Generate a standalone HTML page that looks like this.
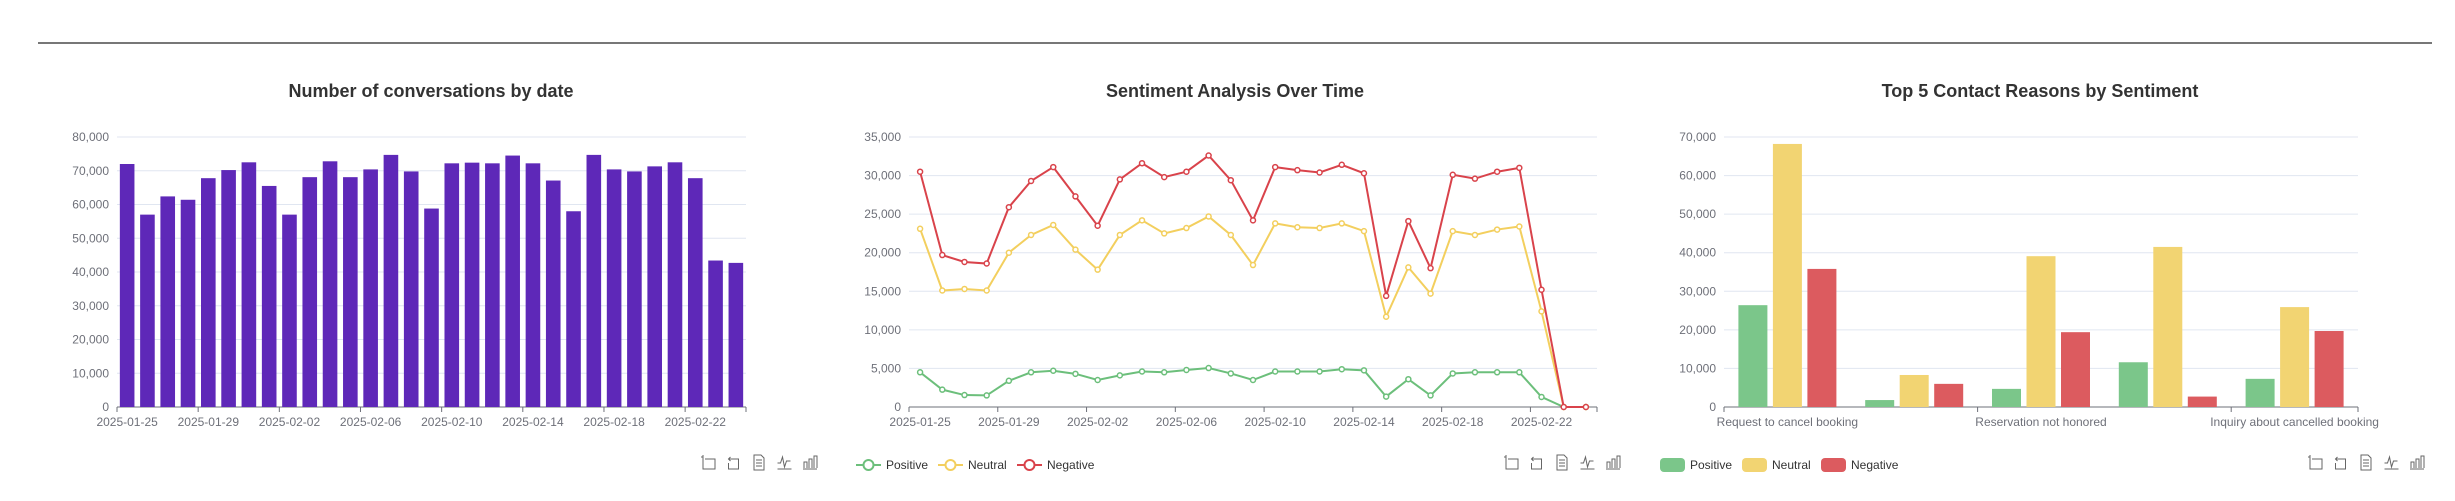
<!DOCTYPE html>
<html><head><meta charset="utf-8"><style>
html,body{margin:0;padding:0;background:#fff;width:2455px;height:501px;overflow:hidden}
svg{display:block;font-family:"Liberation Sans",Arial,sans-serif}
</style></head><body>
<svg id="s" width="2455" height="501">
<rect x="38" y="42" width="2394" height="2" fill="#777"/>
<text x="431" y="97" text-anchor="middle" font-size="18" font-weight="bold" fill="#333">Number of conversations by date</text>
<text x="1235" y="97" text-anchor="middle" font-size="18" font-weight="bold" fill="#333">Sentiment Analysis Over Time</text>
<text x="2040" y="97" text-anchor="middle" font-size="18" font-weight="bold" fill="#333">Top 5 Contact Reasons by Sentiment</text>
<g id="c1"></g>
<g id="c2"></g>
<g id="c3"></g>
</svg>
<script>
const dates=[];
for(let i=0;i<31;i++){const d=new Date(Date.UTC(2025,0,25+i));dates.push(d.toISOString().slice(0,10));}
const conversations=[72000,57000,62400,61400,67800,70200,72500,65500,57000,68100,72800,68100,70400,74700,69800,58800,72200,72400,72200,74500,72200,67100,58000,74700,70400,69800,71300,72500,67800,43400,42700];
const negative=[30500,19700,18800,18600,25900,29300,31100,27300,23500,29500,31600,29800,30500,32600,29400,24200,31100,30700,30400,31400,30300,14400,24100,18000,30100,29600,30500,31000,15200,0,0];
const neutral=[23100,15100,15300,15100,20000,22300,23600,20400,17800,22300,24200,22500,23200,24700,22300,18400,23800,23300,23200,23800,22800,11700,18100,14700,22800,22300,23000,23400,12400,0,0];
const positive=[4500,2250,1550,1500,3400,4500,4700,4300,3500,4100,4600,4500,4800,5050,4350,3500,4600,4600,4600,4900,4750,1350,3600,1500,4350,4500,4500,4500,1300,0,0];
const reasons=["Request to cancel booking","Booking modification","Reservation not honored","Refund status","Inquiry about cancelled booking"];
const reasonPositive=[26400,1800,4700,11600,7300];
const reasonNeutral=[68200,8300,39100,41500,25900];
const reasonNegative=[35800,6000,19400,2700,19700];
const ticks1=[0,10000,20000,30000,40000,50000,60000,70000,80000];
const ticks2=[0,5000,10000,15000,20000,25000,30000,35000];
const ticks3=[0,10000,20000,30000,40000,50000,60000,70000];
const NS="http://www.w3.org/2000/svg";
function mk(p,tag,a,txt){const e=document.createElementNS(NS,tag);for(const k in a)e.setAttribute(k,a[k]);if(txt!==undefined)e.textContent=txt;p.appendChild(e);return e;}
const fmt=v=>v.toLocaleString('en-US');
const Y0=407,Y1=137;
function axes(g,x0,x1,ticks,cats,labelEvery,name){
  const max=ticks[ticks.length-1];
  const y=v=>Y0-(v/max)*(Y0-Y1);
  ticks.forEach(t=>{
    if(t>0){const l=mk(g,'line',{x1:x0,x2:x1,y1:y(t),y2:y(t),stroke:'#e0e6f1','stroke-width':1});
    
    }
    const tx=mk(g,'text',{x:x0-8,y:y(t)+4,'text-anchor':'end','font-size':12,fill:'#6e7079'},fmt(t));
    
    
  });
  const ax=mk(g,'line',{x1:x0,x2:x1,y1:Y0,y2:Y0,stroke:'#6e7079','stroke-width':1});
  
  
  const bw=(x1-x0)/cats.length;
  for(let i=0;i<=cats.length;i++){
    if(i%labelEvery===0||i===cats.length){
      const tk=mk(g,'line',{x1:x0+i*bw,x2:x0+i*bw,y1:Y0,y2:Y0+5,stroke:'#6e7079'});
      
      
    }
    if(i<cats.length&&i%labelEvery===0){
      const lb=mk(g,'text',{x:x0+(i+0.5)*bw,y:Y0+19,'text-anchor':'middle','font-size':12,fill:'#6e7079'},cats[i]);
      
      
    }
  }
  return {y,bw};
}
function toolbox(g,x,name){
  const icons=['M3 3v12h12V5H5 M3 3V1 M1 3h2','M5 3L3 5l2 2 M3 5h10v10H3V9','M3 1h7l3 3v12H3z M5 6h6 M5 9h6 M5 12h6','M1 15h14 M1 9h3l2-6 2 10 2-6h4','M1 15h14 M2 14V8h3v6 M7 14V5h3v9 M12 14V2h3v12'];
  icons.forEach((d,i)=>{
    const p=mk(g,'path',{d:d,transform:`translate(${x+i*25.5},454)`,fill:'none',stroke:'#666','stroke-width':1});
    
    
  });
}
// Chart 1
(function(){
  const g=document.getElementById('c1');
  const x0=117,x1=746;
  const {y,bw}=axes(g,x0,x1,ticks1,dates,4,'conversations');
  conversations.forEach((v,i)=>{
    const w=bw*0.72;
    const r=mk(g,'rect',{x:x0+i*bw+(bw-w)/2,y:y(v),width:w,height:Y0-y(v),fill:'#5e28b8'});
    
    
  });
  toolbox(g,700,'conversations');
})();
// Chart 2
(function(){
  const g=document.getElementById('c2');
  const x0=909,x1=1597;
  const {y,bw}=axes(g,x0,x1,ticks2,dates,4,'sentiment');
  const series=[[positive,'#6cbf7b','positive'],[neutral,'#f3cf5e','neutral'],[negative,'#d9434b','negative']];
  series.forEach(([arr,col,nm])=>{
    const pts=arr.map((v,i)=>[x0+(i+0.5)*bw,y(v)]);
    const pl=mk(g,'polyline',{points:pts.map(p=>p.join(',')).join(' '),fill:'none',stroke:col,'stroke-width':2});
    
    
    pts.forEach((p,i)=>{
      const c=mk(g,'circle',{cx:p[0],cy:p[1],r:2.5,fill:'#fff',stroke:col,'stroke-width':1.5});
      
      
    });
  });
  const leg=[['Positive','#6cbf7b',856],['Neutral','#f3cf5e',938],['Negative','#d9434b',1017]];
  leg.forEach(([t,c,x])=>{
    const lg=mk(g,'g',{});
    
    
    mk(lg,'line',{x1:x,x2:x+25,y1:465,y2:465,stroke:c,'stroke-width':2});
    mk(lg,'circle',{cx:x+12.5,cy:465,r:5,fill:'#fff',stroke:c,'stroke-width':2});
    mk(lg,'text',{x:x+30,y:469,'font-size':12,fill:'#333'},t);
  });
  toolbox(g,1503,'sentiment');
})();
// Chart 3
(function(){
  const g=document.getElementById('c3');
  const x0=1724,x1=2358;
  const {y,bw}=axes(g,x0,x1,ticks3,reasons,2,'reasons');
  const series=[[reasonPositive,'#7bc68a','positive'],[reasonNeutral,'#f2d472','neutral'],[reasonNegative,'#dc5b5f','negative']];
  const w=29,gap=5.5,total=3*w+2*gap;
  series.forEach(([arr,col,nm],s)=>{
    arr.forEach((v,i)=>{
      const r=mk(g,'rect',{x:x0+(i+0.5)*bw-total/2+s*(w+gap),y:y(v),width:w,height:Y0-y(v),fill:col});
      
      
    });
  });
  const leg=[['Positive','#7bc68a',1660],['Neutral','#f2d472',1742],['Negative','#dc5b5f',1821]];
  leg.forEach(([t,c,x])=>{
    const lg=mk(g,'g',{});
    
    
    mk(lg,'rect',{x:x,y:458,width:25,height:14,rx:4,fill:c});
    mk(lg,'text',{x:x+30,y:469,'font-size':12,fill:'#333'},t);
  });
  toolbox(g,2307,'reasons');
})();
</script>
</body></html>
